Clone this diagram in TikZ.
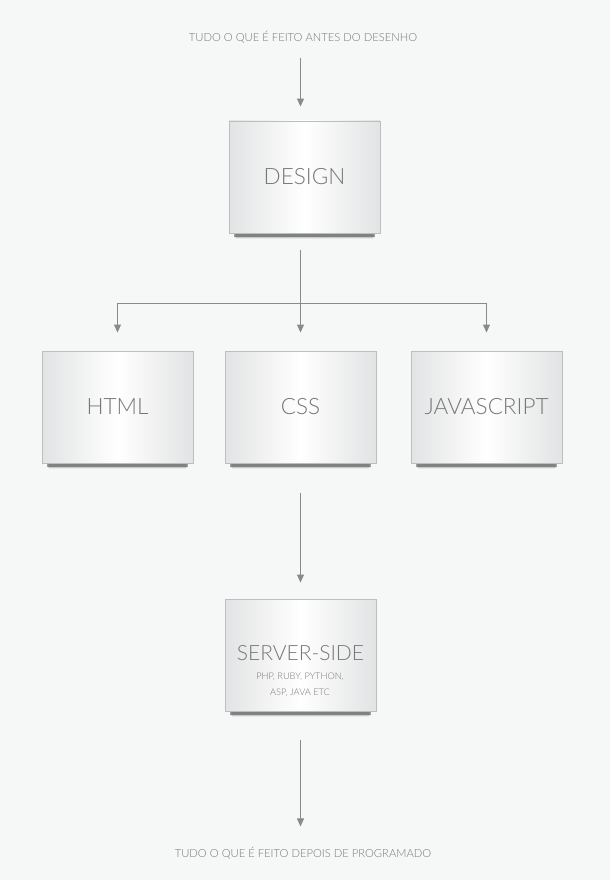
\documentclass[tikz,border=0pt]{standalone}
\usepackage{fontspec}
\setmainfont{Lato Light}
\usetikzlibrary{positioning,arrows.meta,shadows}

\definecolor{paper}{HTML}{F6F7F7}
\definecolor{ink}{HTML}{777777}
\definecolor{wire}{HTML}{8A8A8A}
\definecolor{boxline}{HTML}{BEBEBE}
\definecolor{boxside}{HTML}{E2E3E4}

\begin{document}
\begin{tikzpicture}[
                x=1pt,y=-1pt,
                caixa/.style={draw=boxline,line width=0.9pt,minimum width=151pt,minimum height=112pt,
                    left color=boxside,right color=boxside,middle color=white,
                    text=ink,font=\fontsize{22.5}{24}\selectfont,
                    general shadow={shadow yshift=-12pt,shadow scale=0.91,fill=black,opacity=0.06},
                    general shadow={shadow yshift=-10.5pt,shadow scale=0.92,fill=black,opacity=0.12},
                    general shadow={shadow yshift=-9pt,shadow scale=0.93,fill=black,opacity=0.18},
                    general shadow={shadow yshift=-7.5pt,shadow scale=0.94,fill=black,opacity=0.22}},
                seta/.style={draw=wire,line width=1pt,-{Triangle[width=7pt,length=8pt]}},
                nota/.style={text=ink,font=\fontsize{11.2}{13}\selectfont}
            ]
                \fill[paper] (0,0) rectangle (610,880);
                \node [nota] (antes) at (303,37) {TUDO O QUE É FEITO ANTES DO DESENHO};
                \node [caixa] (design) at (304.5,177) {DESIGN};
                \node [caixa] (html) at (117.5,407) {HTML};
                \node [caixa] (css) at (300.5,407) {CSS};
                \node [caixa] (js) at (486.5,407) {JAVASCRIPT};
                \node [caixa,font=\fontsize{21}{23}\selectfont,text depth=5pt] (server) at (300.5,655) {SERVER-SIDE};
                \node [text=ink,align=center,font=\fontsize{9.2}{16.5}\selectfont] (linguagens) at (300,685)
                    {PHP, RUBY, PYTHON,\\ASP, JAVA ETC};
                \node [nota] (depois) at (303,853) {TUDO O QUE É FEITO DEPOIS DE PROGRAMADO};
                % ligacoes
                \coordinate (ramo) at (300.5,303);
                \draw [seta,shorten <=11pt,shorten >=14pt] (antes.south -| ramo) -- (design.north -| ramo);
                \draw [seta,shorten <=17pt,shorten >=18pt] (design.south -| ramo) -- (css.north);
                \draw [seta,shorten >=18pt] (ramo) -| (html.north);
                \draw [seta,shorten >=18pt] (ramo) -| (js.north);
                \draw [seta,shorten <=30pt,shorten >=16pt] (css.south) -- (server.north);
                \draw [seta,shorten <=29pt,shorten >=17pt] (server.south) -- (depois.north -| server);
            \end{tikzpicture}
\end{document}
